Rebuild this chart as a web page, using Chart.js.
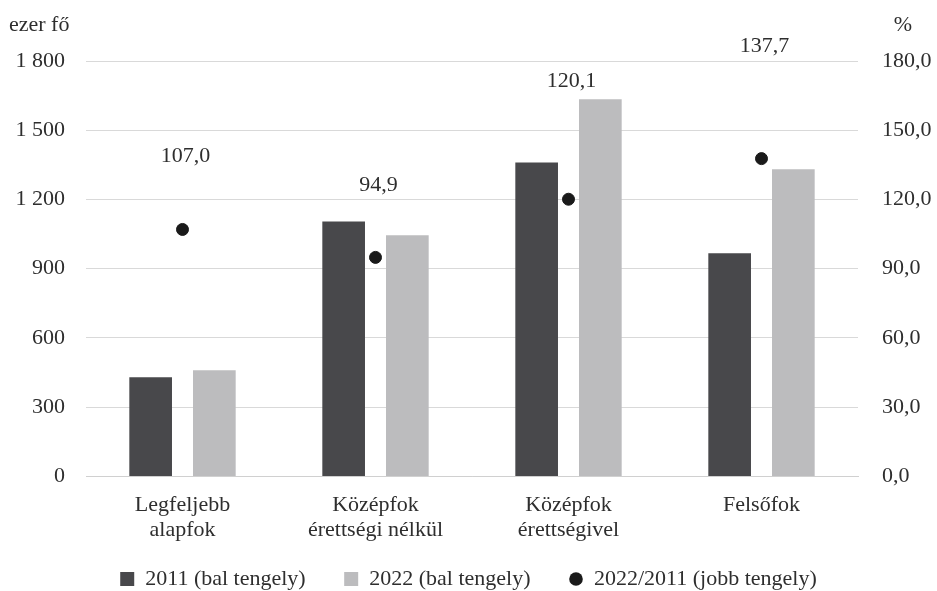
<!DOCTYPE html>
<html>
<head>
<meta charset="utf-8">
<script src="https://cdn.jsdelivr.net/npm/chart.js@4/dist/chart.umd.min.js"></script>
<style>
  html, body { margin: 0; padding: 0; background: #fff; }
  #wrap { width: 937px; height: 591px; }
</style>
</head>
<body>
<div id="wrap"><canvas id="barChart"></canvas></div>
<script>
// data
var categories = [
  ["Legfeljebb", "alapfok"],
  ["Középfok", "érettségi nélkül"],
  ["Középfok", "érettségivel"],
  ["Felsőfok"]
];
var values2011 = [430, 1105, 1360, 967];
var values2022 = [460, 1045, 1634, 1331];
var ratio = [107.0, 94.9, 120.1, 137.7];

var leftTicks = [0, 300, 600, 900, 1200, 1500, 1800];
var rightTicks = [0, 30, 60, 90, 120, 150, 180];

var FONT = "'Liberation Serif', 'DejaVu Serif', serif";
var TXT = "#2e2e2e";
var GAP = "\u2002\u2002\u2002 ";

function huNum(v, dec) {
  var s = v.toFixed(dec).replace(".", ",");
  var parts = s.split(",");
  parts[0] = parts[0].replace(/\B(?=(\d{3})+(?!\d))/g, " ");
  return parts.join(",");
}

// small round marker for the legend
var dot = document.createElement("canvas");
dot.width = 14;
dot.height = 14;
var dctx = dot.getContext("2d");
dctx.fillStyle = "#1a1a1a";
dctx.beginPath();
dctx.arc(7, 7, 6.8, 0, Math.PI * 2);
dctx.fill();

// axis titles + value labels over the dots
var extras = {
  id: "extras",
  afterDatasetsDraw: function(chart, args, opts) {
    var ctx = chart.ctx;
    ctx.save();
    ctx.fillStyle = TXT;
    ctx.font = "22px " + FONT;
    ctx.textBaseline = "alphabetic";
    ctx.textAlign = "left";
    ctx.fillText("ezer fő", 9, 31);
    ctx.textAlign = "center";
    ctx.fillText("%", 903, 31);
    ctx.textBaseline = "middle";

    var meta = chart.getDatasetMeta(2);
    meta.data.forEach(function(pt, i) {
      ctx.fillText(huNum(ratio[i], 1), pt.x + 3, pt.y - opts.lift[i]);
    });
    ctx.restore();
  }
};

var ctx = document.getElementById("barChart").getContext("2d");
var myChart = new Chart(ctx, {
  type: "bar",
  data: {
    labels: categories,
    datasets: [
      {
        label: "2011 (bal tengely)" + GAP,
        data: values2011,
        backgroundColor: "#48484b",
        yAxisID: "y",
        pointStyle: "rect",
        order: 2
      },
      {
        label: "2022 (bal tengely)" + GAP,
        data: values2022,
        backgroundColor: "#bcbcbe",
        yAxisID: "y",
        pointStyle: "rect",
        order: 2
      },
      {
        type: "line",
        label: "2022/2011 (jobb tengely)",
        data: ratio,
        yAxisID: "y1",
        showLine: false,
        pointStyle: "circle",
        pointRadius: 6,
        pointHoverRadius: 6,
        backgroundColor: "#1a1a1a",
        borderColor: "#1a1a1a",
        order: 1
      }
    ]
  },
  options: {
    responsive: true,
    maintainAspectRatio: false,
    animation: false,
    devicePixelRatio: 1,
    categoryPercentage: 0.66,
    barPercentage: 0.67,
    layout: { padding: { top: 61, left: 0, right: 0, bottom: -9 } },
    plugins: {
      tooltip: { enabled: false },
      extras: { lift: [73, 72, 118, 112] },
      legend: {
        position: "bottom",
        labels: {
          usePointStyle: true,
          boxWidth: 14,
          boxHeight: 14,
          padding: 0,
          color: TXT,
          font: { family: FONT, size: 22 },
          sort: function(a, b) { return a.datasetIndex - b.datasetIndex; },
          generateLabels: function(chart) {
            var items = Chart.defaults.plugins.legend.labels.generateLabels(chart);
            items.forEach(function(it) {
              if (it.datasetIndex === 2) it.pointStyle = dot;
            });
            return items;
          }
        }
      }
    },
    scales: {
      x: {
        afterFit: function(axis) { axis.height = axis.height + 9; },
        grid: { display: false, drawTicks: false },
        border: { color: "#d0d0d0", width: 1 },
        ticks: {
          color: TXT,
          padding: 16,
          font: { family: FONT, size: 22, lineHeight: 1.15 }
        }
      },
      y: {
        position: "left",
        min: 0,
        max: 1800,
        afterBuildTicks: function(axis) {
          axis.ticks = leftTicks.map(function(v) { return { value: v }; });
        },
        afterFit: function(axis) { axis.width = 86; },
        grid: { color: "#d9d9d9", drawTicks: false },
        border: { display: false },
        ticks: {
          color: TXT,
          padding: 21,
          font: { family: FONT, size: 22 },
          callback: function(v) { return huNum(v, 0); }
        }
      },
      y1: {
        position: "right",
        min: 0,
        max: 180,
        afterBuildTicks: function(axis) {
          axis.ticks = rightTicks.map(function(v) { return { value: v }; });
        },
        afterFit: function(axis) { axis.width = 79; },
        grid: { display: false, drawTicks: false },
        border: { display: false },
        ticks: {
          color: TXT,
          padding: 24,
          font: { family: FONT, size: 22 },
          callback: function(v) { return huNum(v, 1); }
        }
      }
    }
  },
  plugins: [extras]
});
</script>
</body>
</html>
